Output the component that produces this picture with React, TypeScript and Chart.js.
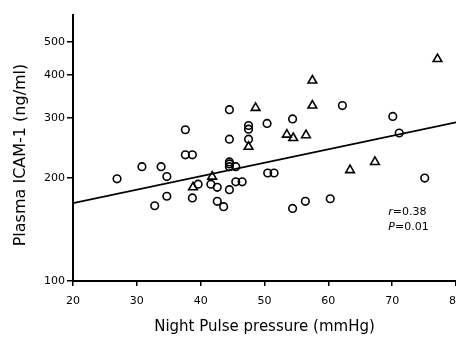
import { useEffect, useRef } from "react";
import { Chart, registerables } from "chart.js";

Chart.register(...registerables);

// Circles (group 1)
const circleX = [26.9, 30.8, 33.8, 34.7, 32.8, 34.7, 37.6, 38.7, 37.6, 38.7, 39.6, 41.6, 42.6, 42.6, 43.6, 44.5, 44.5, 44.5, 44.5, 45.5, 45.5, 46.5, 44.5, 44.5, 47.5, 47.5, 47.5, 50.4, 50.5, 51.5, 54.4, 54.4, 56.4, 60.3, 62.2, 70.1, 71.1, 75.1];
const circleY = [199, 216, 216, 202, 166, 177, 234, 234, 277, 175, 192, 192, 188, 171, 165, 185, 223, 220, 216, 216, 195, 195, 317, 260, 285, 278, 260, 289, 207, 207, 298, 163, 171, 174, 326, 303, 271, 200];

// Triangles (group 2)
const triangleX = [38.8, 41.8, 47.5, 48.6, 53.5, 54.5, 56.5, 57.5, 57.5, 63.4, 67.3, 77.1];
const triangleY = [188, 202, 247, 321, 268, 262, 267, 386, 326, 211, 223, 446];

// Regression line end points
const lineX = [20, 80];
const lineY = [169, 291];

// Axis ticks
const xTicks = [20, 30, 40, 50, 60, 70, 80];
const yTicks = [100, 200, 300, 400, 500];

// Axis titles
const xTitle = "Night Pulse pressure (mmHg)";
const yTitle = "Plasma ICAM-1 (ng/ml)";

// Stats annotation
const statSymbols = ["r", "P"];
const statValues = ["=0.38", "=0.01"];
const statX = [69.4, 69.4];
const statY = [159.5, 143.8];

const FONT = "'DejaVu Sans', Verdana, sans-serif";

export default function App() {
  const ref = useRef<HTMLCanvasElement | null>(null);

  useEffect(() => {
    const canvas = ref.current;
    if (!canvas) return;

    const textPlugin = {
      id: "texts",
      afterDraw(chart: any) {
        const ctx = chart.ctx;
        const xs = chart.scales.x;
        const ys = chart.scales.y;
        ctx.save();
        ctx.fillStyle = "#000";
        ctx.textBaseline = "middle";
        ctx.textAlign = "left";
        for (let i = 0; i < statSymbols.length; i++) {
          const px = xs.getPixelForValue(statX[i]);
          const py = ys.getPixelForValue(statY[i]);
          ctx.font = `italic 11px ${FONT}`;
          ctx.fillText(statSymbols[i], px, py);
          const w = ctx.measureText(statSymbols[i]).width;
          ctx.font = `11px ${FONT}`;
          ctx.fillText(statValues[i], px + w, py);
        }
        // y-axis title
        ctx.translate(21, 155);
        ctx.rotate(-Math.PI / 2);
        ctx.textAlign = "center";
        ctx.font = `16px ${FONT}`;
        ctx.fillText(yTitle, 0, 0);
        ctx.restore();
      },
    };

    const chart = new Chart(canvas, {
      type: "scatter",
      data: {
        datasets: [
          {
            type: "line",
            label: "fit",
            data: lineX.map((x, i) => ({ x, y: lineY[i] })),
            borderColor: "#000",
            borderWidth: 1.8,
            pointRadius: 0,
            fill: false,
          } as any,
          {
            label: "circles",
            data: circleX.map((x, i) => ({ x, y: circleY[i] })),
            pointStyle: "circle",
            pointRadius: 3.8,
            borderColor: "#000",
            backgroundColor: "rgba(255,255,255,0)",
            borderWidth: 1.6,
          },
          {
            label: "triangles",
            data: triangleX.map((x, i) => ({ x, y: triangleY[i] })),
            pointStyle: "triangle",
            pointRadius: 5,
            borderColor: "#000",
            backgroundColor: "rgba(255,255,255,0)",
            borderWidth: 1.6,
          },
        ],
      },
      options: {
        animation: false,
        responsive: false,
        maintainAspectRatio: false,
        layout: { padding: { top: 15, right: 1, left: 0, bottom: 0 } },
        plugins: {
          legend: { display: false },
          tooltip: { enabled: false },
        },
        scales: {
          x: {
            type: "linear",
            min: 20,
            max: 80,
            afterBuildTicks: (scale: any) => {
              scale.ticks = xTicks.map((v) => ({ value: v }));
            },
            afterFit: (scale: any) => {
              scale.height = 57;
            },
            ticks: {
              color: "#000",
              font: { family: FONT, size: 11 },
              padding: 9,
              maxRotation: 0,
              autoSkip: false,
              callback: (v: any) => String(v),
            },
            grid: {
              drawOnChartArea: false,
              drawTicks: true,
              tickLength: 5,
              color: "#000",
              lineWidth: 1.5,
            },
            border: { display: true, color: "#000", width: 2 },
            title: {
              display: true,
              text: xTitle,
              color: "#000",
              font: { family: FONT, size: 15 },
              padding: { top: 0, bottom: 2 },
            },
          },
          y: {
            type: "logarithmic",
            min: 100,
            max: 600,
            afterBuildTicks: (scale: any) => {
              scale.ticks = yTicks.map((v) => ({ value: v }));
            },
            afterFit: (scale: any) => {
              scale.width = 73;
              scale.paddingTop = 0;
              scale.paddingBottom = 0;
            },
            ticks: {
              color: "#000",
              font: { family: FONT, size: 11 },
              padding: 2,
              autoSkip: false,
              callback: (v: any) => String(v),
            },
            grid: {
              drawOnChartArea: false,
              drawTicks: true,
              tickLength: 6,
              color: "#000",
              lineWidth: 1.5,
            },
            border: { display: true, color: "#000", width: 2 },
            title: { display: false },
          },
        },
      },
      plugins: [textPlugin],
    });

    return () => chart.destroy();
  }, []);

  return (
    <div style={{ position: "fixed", left: 0, top: 0, width: 456, height: 338, background: "#fff", overflow: "hidden" }}>
      <div style={{ width: 472, height: 338 }}>
        <canvas ref={ref} width={472} height={338} style={{ display: "block", width: 472, height: 338 }} />
      </div>
    </div>
  );
}
